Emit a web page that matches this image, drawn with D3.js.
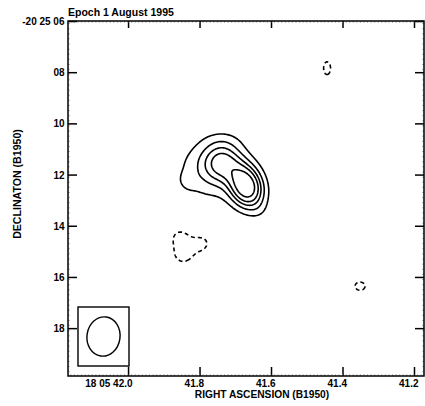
<!DOCTYPE html>
<html><head><meta charset="utf-8">
<script src="https://cdn.jsdelivr.net/npm/d3@7"></script>
<style>
html,body{margin:0;padding:0;background:#fff;}
svg text{font-family:"Liberation Sans",Arial,Helvetica,sans-serif;font-weight:bold;fill:#000;}
</style></head><body>
<svg id="chart" width="425" height="406"></svg>
<script>
// ---- map description ----
const title = "Epoch 1 August 1995";
const xTitle = "RIGHT ASCENSION (B1950)";
const yTitle = "DECLINATON (B1950)";

// RA in seconds of time (18h 05m xx.x s), Dec in arcsec (-20d 25' xx")
const raDomain = [42.168, 41.172];
const decDomain = [6, 19.87];
const raTicks = [42.0, 41.8, 41.6, 41.4, 41.2];
const raTickLabels = ["18 05 42.0", "41.8", "41.6", "41.4", "41.2"];
const decTicks = [6, 8, 10, 12, 14, 16, 18];
const decTickLabels = ["-20 25 06", "08", "10", "12", "14", "16", "18"];

// Gaussian components of the brightness model
//                 core     knot     plateau  west-bump N-rim    SE-tail  | negative bowl (4)                | noise dips
const compRA    = [41.6698, 41.7370, 41.7706, 41.8321, 41.7286, 41.6335,  41.8573, 41.7901, 41.8489, 41.8321,  41.4432, 41.3509];
const compDec   = [12.453,  11.516,  11.828,  12.258,  10.656,  13.391,   14.445,  14.680,  15.148,  14.836,   7.844,   16.359];
const compPeak  = [1.00,    0.50,    0.25,    0.08,    0.06,    0.05,     -0.14,   -0.14,   -0.14,   -0.12,    -0.20,   -0.20];
const compMajor = [0.58,    0.51,    0.98,    0.24,    0.59,    0.28,     0.31,    0.31,    0.31,    0.43,     0.33,    0.26];  // sigma, arcsec
const compMinor = [0.43,    0.51,    0.86,    0.24,    0.31,    0.28,     0.31,    0.31,    0.31,    0.43,     0.18,    0.21];
const compPA    = [20,      0,       90,      0,       90,      0,        0,       0,       0,       0,        0,       90];    // deg E of N

// contour levels; negative levels are dashed
const contourLevels = [0.15, 0.30, 0.45, 0.60, 0.80];
const negativeLevels = [-0.15];

// restoring beam: FWHM major, minor (arcsec) and position angle (deg)
const beamFWHM = [1.54, 1.30];
const beamPA = -8;

// ---- layout ----
const svg = d3.select("#chart");
const plotL = 68, plotR = 424, plotT = 21, plotB = 376;
const x = d3.scaleLinear().domain(raDomain).range([plotL, plotR]);
const y = d3.scaleLinear().domain(decDomain).range([plotT, plotB]);
const cosDec = Math.cos((20 + 25 / 60 + 12 / 3600) * Math.PI / 180);
const arcsecPerSec = 15 * cosDec;

// ---- brightness grid ----
const nx = Math.round(plotR - plotL), ny = Math.round(plotB - plotT);
const grid = new Float64Array(nx * ny);
const toRad = Math.PI / 180;
for (let j = 0; j < ny; j++) {
  const dec = y.invert(plotT + j + 0.5);
  for (let i = 0; i < nx; i++) {
    const ra = x.invert(plotL + i + 0.5);
    let v = 0;
    for (let k = 0; k < compRA.length; k++) {
      const dE = (ra - compRA[k]) * arcsecPerSec;
      const dN = -(dec - compDec[k]);
      const pa = compPA[k] * toRad;
      const u = dN * Math.cos(pa) + dE * Math.sin(pa);
      const w = -dN * Math.sin(pa) + dE * Math.cos(pa);
      v += compPeak[k] * Math.exp(-0.5 * ((u / compMajor[k]) ** 2 + (w / compMinor[k]) ** 2));
    }
    grid[i + j * nx] = v;
  }
}

const gridPath = d3.geoPath(d3.geoTransform({
  point(px, py) { this.stream.point(plotL + px, plotT + py); }
}));

svg.append("clipPath").attr("id", "plotClip")
  .append("rect").attr("x", plotL).attr("y", plotT).attr("width", plotR - plotL).attr("height", plotB - plotT);

const maps = svg.append("g").attr("clip-path", "url(#plotClip)")
  .attr("fill", "none").attr("stroke", "#000").attr("stroke-width", 1.6).attr("stroke-linejoin", "round");

maps.selectAll("path.pos")
  .data(d3.contours().size([nx, ny]).thresholds(contourLevels)(grid))
  .join("path").attr("class", "pos").attr("d", gridPath);

const negGrid = grid.map(v => -v);
maps.selectAll("path.neg")
  .data(d3.contours().size([nx, ny]).thresholds(negativeLevels.map(l => -l))(negGrid))
  .join("path").attr("class", "neg").attr("d", gridPath)
  .attr("stroke-dasharray", "4,3");

// ---- axes ----
function styleAxis(g) {
  g.attr("font-size", null).attr("font-family", null);
  g.selectAll(".tick line").attr("stroke", "#000").attr("stroke-width", 1.5);
  g.select(".domain").remove();
}

const minorRA = d3.range(42.16, 41.17, -0.01);
const minorDec = d3.range(6.1, 19.87, 0.2);

const axB = svg.append("g").attr("transform", `translate(0,${plotB})`)
  .call(d3.axisBottom(x).tickValues(raTicks).tickSize(-9).tickSizeOuter(0)
    .tickFormat((d, i) => raTickLabels[i]))
  .call(styleAxis);
axB.selectAll(".tick text").attr("font-size", 10).attr("text-anchor", "end")
  .attr("x", 4).attr("y", 11).attr("dy", 0);

svg.append("g").attr("transform", `translate(0,${plotT})`)
  .call(d3.axisTop(x).tickValues(raTicks).tickSize(-7).tickSizeOuter(0).tickFormat(""))
  .call(styleAxis);

const axL = svg.append("g").attr("transform", `translate(${plotL},0)`)
  .call(d3.axisLeft(y).tickValues(decTicks).tickSize(-9).tickSizeOuter(0)
    .tickFormat((d, i) => decTickLabels[i]))
  .call(styleAxis);
axL.selectAll(".tick text").attr("font-size", 10).attr("x", -3.5).attr("dy", "0.36em");

svg.append("g").attr("transform", `translate(${plotR},0)`)
  .call(d3.axisRight(y).tickValues(decTicks).tickSize(-9).tickSizeOuter(0).tickFormat(""))
  .call(styleAxis);

// faint minor ticks along the frame
const minor = svg.append("g").attr("stroke", "#888").attr("stroke-width", 0.6);
minor.selectAll("line.mb").data(minorRA).join("line")
  .attr("x1", d => x(d)).attr("x2", d => x(d)).attr("y1", plotB).attr("y2", plotB - 2);
minor.selectAll("line.mt").data(minorRA).join("line")
  .attr("x1", d => x(d)).attr("x2", d => x(d)).attr("y1", plotT).attr("y2", plotT + 2);
minor.selectAll("line.ml").data(minorDec).join("line")
  .attr("y1", d => y(d)).attr("y2", d => y(d)).attr("x1", plotL).attr("x2", plotL + 2);
minor.selectAll("line.mr").data(minorDec).join("line")
  .attr("y1", d => y(d)).attr("y2", d => y(d)).attr("x1", plotR).attr("x2", plotR - 2);

// frame
svg.append("rect").attr("x", plotL).attr("y", plotT).attr("width", plotR - plotL).attr("height", plotB - plotT)
  .attr("fill", "none").attr("stroke", "#000").attr("stroke-width", 1.5);

// ---- beam ----
const boxW = 51, boxH = 59, boxPad = 10;
const bx = plotL + boxPad, by = plotB - boxPad - boxH;
svg.append("rect").attr("x", bx).attr("y", by).attr("width", boxW).attr("height", boxH)
  .attr("fill", "#fff").attr("stroke", "#000").attr("stroke-width", 1.4);
const pxPerArcsecX = Math.abs(x(0) - x(1 / arcsecPerSec));
const pxPerArcsecY = Math.abs(y(1) - y(0));
svg.append("ellipse")
  .attr("cx", bx + boxW / 2).attr("cy", by + boxH / 2)
  .attr("rx", beamFWHM[1] / 2 * pxPerArcsecX).attr("ry", beamFWHM[0] / 2 * pxPerArcsecY)
  .attr("transform", `rotate(${-beamPA},${bx + boxW / 2},${by + boxH / 2})`)
  .attr("fill", "none").attr("stroke", "#000").attr("stroke-width", 1.4);

// ---- titles ----
svg.append("text").attr("x", plotL).attr("y", 16).attr("font-size", 10.5).text(title);
svg.append("text").attr("x", 262).attr("y", 398).attr("text-anchor", "middle")
  .attr("font-size", 10.2).text(xTitle);
svg.append("text").attr("transform", "translate(20.5,184) rotate(-90)").attr("text-anchor", "middle")
  .attr("font-size", 10.6).text(yTitle);
</script>
</body></html>
